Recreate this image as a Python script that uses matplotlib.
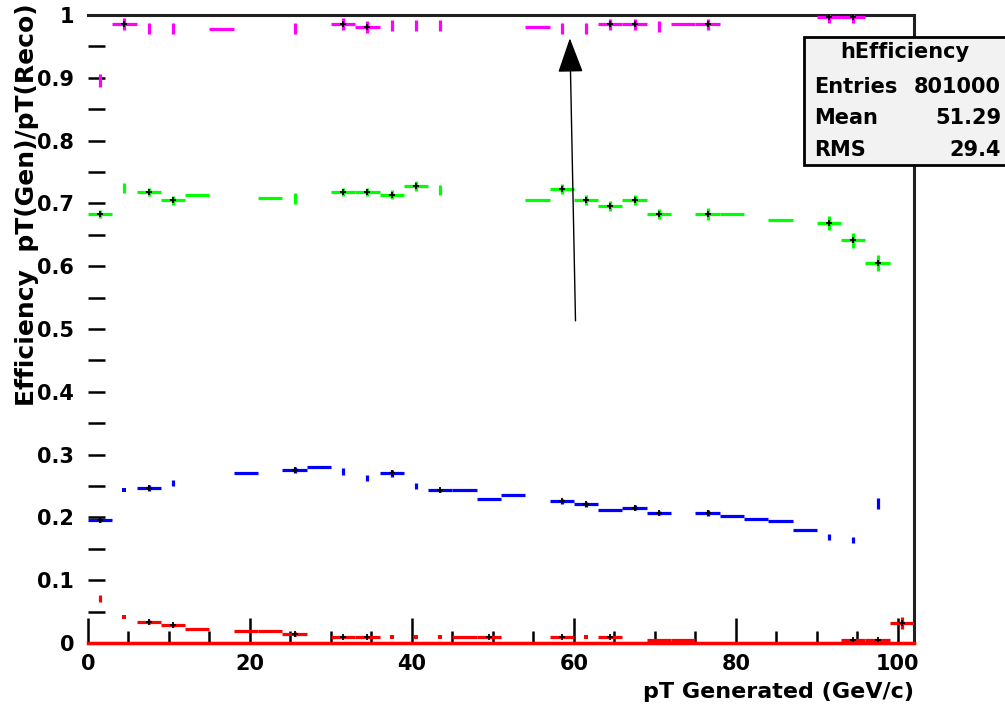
import numpy as np
import matplotlib
matplotlib.use("Agg")
import matplotlib.pyplot as plt
from matplotlib.patches import Rectangle

plt.rcParams['font.family'] = ['DejaVu Sans']
plt.rcParams['font.weight'] = 'bold'

# ---------------- data ----------------
bin_width = 3.0
n_bins = 34
N = None

# style codes per bin: p = full cross with marker, s = horizontal segment only,
# t = vertical error only, o = dot only, . = empty
magenta_vals = [0.896, 0.986, 0.979, 0.979, N, 0.977, N, N, 0.979, N,
                0.986, 0.981, 0.983, 0.983, 0.983, N, N, N, 0.981, 0.979,
                0.979, 0.985, 0.985, 0.982, 0.985, 0.985, N, N, N, N,
                0.997, 0.997, N, N]
magenta_errs = [0.010, 0.010, 0.009, 0.009, 0, 0, 0, 0, 0.009, 0,
                0.010, 0.009, 0.009, 0.009, 0.009, 0, 0, 0, 0, 0.009,
                0.009, 0.009, 0.009, 0.009, 0, 0.009, 0, 0, 0, 0,
                0.010, 0.010, 0, 0]
magenta_style = ("t", "p", "t", "t", ".", "s", ".", ".", "t", ".",
                 "p", "p", "t", "t", "t", ".", ".", ".", "s", "t",
                 "t", "p", "p", "t", "s", "p", ".", ".", ".", ".",
                 "p", "p", ".", ".")

green_vals = [0.683, 0.725, 0.718, 0.705, 0.714, N, N, 0.709, 0.708, N,
              0.718, 0.718, 0.714, 0.728, 0.721, N, N, N, 0.705, 0.723,
              0.705, 0.696, 0.705, 0.683, N, 0.683, 0.683, N, 0.673, N,
              0.669, 0.641, 0.605, N]
green_errs = [0.007, 0.008, 0.007, 0.007, 0, 0, 0, 0, 0.009, 0,
              0.007, 0.007, 0.007, 0.008, 0.008, 0, 0, 0, 0, 0.008,
              0.008, 0.008, 0.008, 0.008, 0, 0.009, 0, 0, 0, 0,
              0.011, 0.012, 0.013, 0]
green_style = ("p", "t", "p", "p", "s", ".", ".", "s", "t", ".",
               "p", "p", "p", "p", "t", ".", ".", ".", "s", "p",
               "p", "p", "p", "p", ".", "p", "s", ".", "s", ".",
               "p", "p", "p", ".")

blue_vals = [0.196, 0.243, 0.247, 0.255, N, N, 0.270, N, 0.275, 0.281,
             0.273, 0.263, 0.270, 0.250, 0.243, 0.243, 0.230, 0.235, N, 0.226,
             0.221, 0.211, 0.215, 0.207, N, 0.207, 0.202, 0.198, 0.194, 0.180,
             0.169, 0.164, 0.222, N]
blue_errs = [0.004, 0, 0.005, 0.005, 0, 0, 0, 0, 0.005, 0,
             0.005, 0.005, 0.005, 0.005, 0.003, 0, 0, 0, 0, 0.004,
             0.004, 0, 0.004, 0.003, 0, 0.004, 0, 0, 0, 0,
             0.005, 0.005, 0.009, 0]
blue_style = ("p", "o", "p", "t", ".", ".", "s", ".", "p", "s",
              "t", "t", "p", "t", "p", "s", "s", "s", ".", "p",
              "p", "s", "p", "p", ".", "p", "s", "s", "s", "s",
              "t", "t", "t", ".")

red_vals = [0.071, 0.041, 0.033, 0.028, 0.023, N, 0.019, 0.019, 0.014, N,
            0.0095, 0.0095, 0.0095, 0.0095, 0.0095, 0.0095, 0.0095, N, N, 0.0095,
            0.0095, 0.0095, N, 0.004, 0.004, N, N, N, N, N,
            N, 0.004, 0.004, 0.032]
red_errs = [0.006, 0, 0.003, 0.003, 0, 0, 0, 0, 0.003, 0,
            0.002, 0.002, 0, 0, 0, 0, 0.002, 0, 0, 0.002,
            0, 0.002, 0, 0, 0, 0, 0, 0, 0, 0,
            0, 0.002, 0.002, 0.010]
red_style = ("t", "o", "p", "p", "s", ".", "s", "s", "p", ".",
             "p", "p", "o", "o", "o", "s", "p", ".", ".", "p",
             "o", "p", ".", "s", "s", ".", ".", ".", ".", ".",
             ".", "p", "p", "p")

series = [
    ("#ff00ff", magenta_vals, magenta_errs, magenta_style),
    ("#00ff00", green_vals, green_errs, green_style),
    ("#0000ff", blue_vals, blue_errs, blue_style),
    ("#ff0000", red_vals, red_errs, red_style),
]

stats_title = "hEfficiency"
stats_rows = [("Entries", "801000"), ("Mean", "51.29"), ("RMS", "29.4")]

x_label = "pT Generated (GeV/c)"
y_label = "Efficiency  pT(Gen)/pT(Reco)"

arrow_tail = (60.2, 0.513)
arrow_head = (59.5, 0.963)

# ---------------- figure ----------------
fig = plt.figure(figsize=(10.05, 7.10), dpi=100)
ax = fig.add_axes([88 / 1005, 1 - 643 / 710, (914 - 88) / 1005, (643 - 15) / 710])

centers = (np.arange(n_bins) + 0.5) * bin_width
lw = 2.3

for color, vals, errs, style in series:
    for code in ("p", "s", "t", "o"):
        idx = [i for i in range(n_bins) if style[i] == code and vals[i] is not None]
        if not idx:
            continue
        xs = centers[idx]
        ys = np.array([vals[i] for i in idx])
        es = np.array([errs[i] for i in idx])
        if code == "p":
            ax.errorbar(xs, ys, xerr=bin_width / 2, yerr=es, fmt="none",
                        ecolor=color, elinewidth=lw, capsize=0, zorder=3)
            ax.plot(xs, ys, "+", color="black", ms=5, mew=1.3, zorder=4)
        elif code == "s":
            ax.errorbar(xs, ys, xerr=bin_width / 2, fmt="none",
                        ecolor=color, elinewidth=lw, capsize=0, zorder=3)
        elif code == "t":
            ax.errorbar(xs, ys, yerr=es, fmt="none",
                        ecolor=color, elinewidth=lw, capsize=0, zorder=3)
        elif code == "o":
            ax.plot(xs, ys, "s", color=color, ms=2.5, mew=0, zorder=3)

# baseline at zero
ax.axhline(0, color="#ff0000", lw=2.5, zorder=5, clip_on=False)

ax.set_xlim(0, 102)
ax.set_ylim(0, 1.0)

ax.set_xticks([0, 20, 40, 60, 80, 100])
ax.set_xticks(np.arange(0, 101, 5), minor=True)
ax.set_yticks(np.round(np.arange(0, 1.01, 0.1), 1))
ax.set_yticklabels(["0", "0.1", "0.2", "0.3", "0.4", "0.5", "0.6", "0.7", "0.8", "0.9", "1"])
ax.set_yticks(np.arange(0.05, 1.0, 0.1), minor=True)

ax.tick_params(axis="x", which="major", direction="in", length=18, width=1.8,
               labelsize=15, pad=8, top=False)
ax.tick_params(axis="x", which="minor", direction="in", length=9, width=1.8, top=False)
ax.tick_params(axis="y", which="major", direction="in", length=12, width=1.8,
               labelsize=15, pad=10, right=False)
ax.tick_params(axis="y", which="minor", direction="in", length=12, width=1.8, right=False)
for lab in ax.get_xticklabels() + ax.get_yticklabels():
    lab.set_fontweight("bold")

ax.spines["left"].set_visible(False)
for s in ("top", "right", "bottom"):
    ax.spines[s].set_linewidth(2.2)
    ax.spines[s].set_color("#202020")

ax.set_xlabel(x_label, fontsize=16, fontweight="bold", loc="right", labelpad=6)
ax.set_ylabel(y_label, fontsize=18, fontweight="bold", loc="top")
ax.yaxis.set_label_coords(-0.059, 1.019)

ax.annotate("", xy=arrow_head, xytext=arrow_tail,
            arrowprops=dict(arrowstyle="-|>,head_length=2.2,head_width=0.8",
                            color="black", lw=1.0, shrinkA=0, shrinkB=0,
                            mutation_scale=10), zorder=6)

# stats box
bx0, by0, bx1, by1 = 804, 37, 1010, 165
fig.patches.append(Rectangle((bx0 / 1005, 1 - by1 / 710), (bx1 - bx0) / 1005,
                             (by1 - by0) / 710, transform=fig.transFigure,
                             facecolor="#f2f2f2", edgecolor="black", lw=2.0,
                             zorder=10))
fig.text(905 / 1005, 1 - 52 / 710, stats_title, ha="center", va="center",
         fontsize=15, fontweight="bold", zorder=11)
for k, (name, val) in enumerate(stats_rows):
    yy = 1 - (87 + 31.5 * k) / 710
    fig.text(814 / 1005, yy, name, ha="left", va="center", fontsize=15,
             fontweight="bold", zorder=11)
    fig.text(1001 / 1005, yy, val, ha="right", va="center", fontsize=15,
             fontweight="bold", zorder=11)

fig.savefig("out.png", dpi=100)
